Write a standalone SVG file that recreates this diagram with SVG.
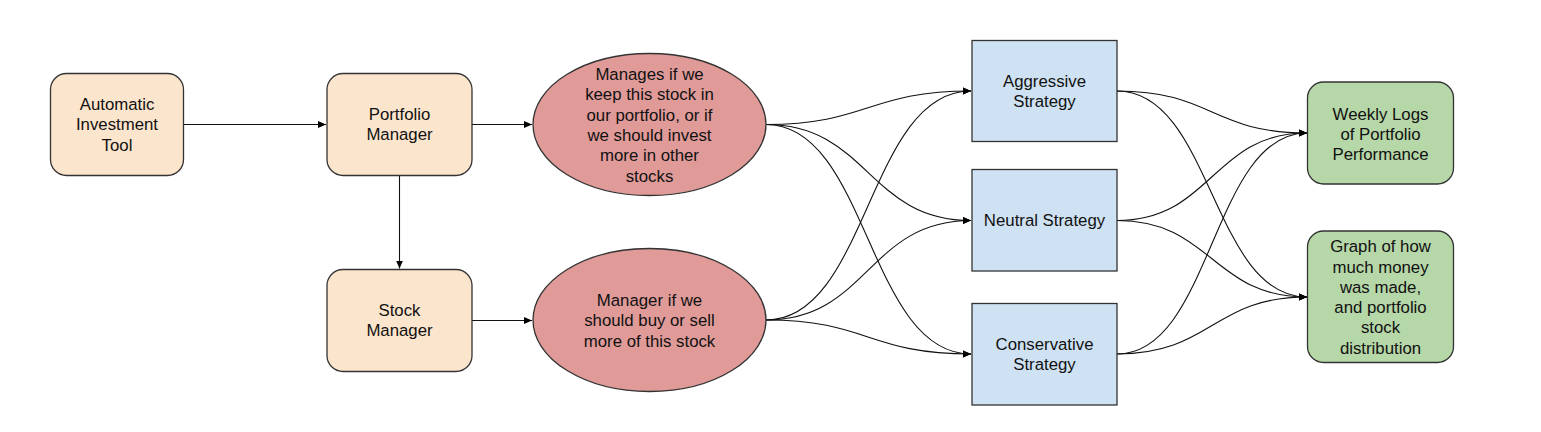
<svg xmlns="http://www.w3.org/2000/svg" width="1541" height="432" viewBox="0 0 1541 432">
<defs>
<marker id="arr" markerUnits="userSpaceOnUse" markerWidth="10" markerHeight="8" refX="8" refY="4" orient="auto">
<path d="M0,0.5 L8,4 L0,7.5 Z" fill="#000"/>
</marker>
<style>
.box{stroke:#333;stroke-width:1.3}
.beige{fill:#fce5cd}
.red{fill:#e09b99}
.blue{fill:#cfe2f3}
.green{fill:#b6d7a8}
.t{font-family:"Liberation Sans",Arial,sans-serif;font-size:16.8px;fill:#111;text-anchor:middle;dominant-baseline:central}
.c{fill:none;stroke:#111;stroke-width:1.1;marker-end:url(#arr)}
</style>
</defs>
<rect width="1541" height="432" fill="#fff"/>
<g id="connectors">
<path class="c" d="M183.5,124.5 L326,124.5"/>
<path class="c" d="M399.5,175.5 L399.5,268.5"/>
<path class="c" d="M472,124.5 L532,124.5"/>
<path class="c" d="M472,320.5 L532,320.5"/>
<path class="c" d="M766,124.5 C868,124.5 868,91 971,91"/>
<path class="c" d="M766,124.5 C868,124.5 868,220.5 971,220.5"/>
<path class="c" d="M766,124.5 C868,124.5 868,354 971,354"/>
<path class="c" d="M766,320 C868,320 868,91 971,91"/>
<path class="c" d="M766,320 C868,320 868,220.5 971,220.5"/>
<path class="c" d="M766,320 C868,320 868,354 971,354"/>
<path class="c" d="M1117,91 C1212,91 1212,133 1307,133"/>
<path class="c" d="M1117,91 C1212,91 1212,297 1307,297"/>
<path class="c" d="M1117,220.5 C1212,220.5 1212,133 1307,133"/>
<path class="c" d="M1117,220.5 C1212,220.5 1212,297 1307,297"/>
<path class="c" d="M1117,354 C1212,354 1212,133 1307,133"/>
<path class="c" d="M1117,354 C1212,354 1212,297 1307,297"/>
</g>
<g id="automatic-investment-tool">
<rect class="box beige" x="50.5" y="73.5" width="133" height="102" rx="16"/>
<text class="t" x="117" y="104.5">Automatic</text>
<text class="t" x="117" y="124.8">Investment</text>
<text class="t" x="117" y="145.1">Tool</text>
</g>
<g id="portfolio-manager">
<rect class="box beige" x="327" y="73.5" width="145" height="102" rx="16"/>
<text class="t" x="399.5" y="114.5">Portfolio</text>
<text class="t" x="399.5" y="134.8">Manager</text>
</g>
<g id="stock-manager">
<rect class="box beige" x="327" y="269.5" width="145" height="102" rx="16"/>
<text class="t" x="399.5" y="310.5">Stock</text>
<text class="t" x="399.5" y="330.8">Manager</text>
</g>
<g id="portfolio-decision">
<ellipse class="box red" cx="649.5" cy="124.5" rx="116.5" ry="71"/>
<text class="t" x="649.5" y="74.3">Manages if we</text>
<text class="t" x="649.5" y="94.7">keep this stock in</text>
<text class="t" x="649.5" y="115.1">our portfolio, or if</text>
<text class="t" x="649.5" y="135.5">we should invest</text>
<text class="t" x="649.5" y="155.9">more in other</text>
<text class="t" x="649.5" y="176.3">stocks</text>
</g>
<g id="stock-decision">
<ellipse class="box red" cx="649.5" cy="320" rx="116.5" ry="71.5"/>
<text class="t" x="649.5" y="300">Manager if we</text>
<text class="t" x="649.5" y="320.6">should buy or sell</text>
<text class="t" x="649.5" y="341.2">more of this stock</text>
</g>
<g id="aggressive-strategy">
<rect class="box blue" x="972" y="40.5" width="145" height="101"/>
<text class="t" x="1044.5" y="81.5">Aggressive</text>
<text class="t" x="1044.5" y="101.8">Strategy</text>
</g>
<g id="neutral-strategy">
<rect class="box blue" x="972" y="169.5" width="145" height="101.5"/>
<text class="t" x="1044.5" y="220.5">Neutral Strategy</text>
</g>
<g id="conservative-strategy">
<rect class="box blue" x="972" y="303.5" width="145" height="101.5"/>
<text class="t" x="1044.5" y="344">Conservative</text>
<text class="t" x="1044.5" y="364.3">Strategy</text>
</g>
<g id="weekly-logs">
<rect class="box green" x="1307.5" y="82" width="146" height="102" rx="16"/>
<text class="t" x="1380.5" y="114.3">Weekly Logs</text>
<text class="t" x="1380.5" y="134.4">of Portfolio</text>
<text class="t" x="1380.5" y="154.5">Performance</text>
</g>
<g id="money-graph">
<rect class="box green" x="1307.5" y="231" width="146" height="131.5" rx="16"/>
<text class="t" x="1380.5" y="246.7">Graph of how</text>
<text class="t" x="1380.5" y="267">much money</text>
<text class="t" x="1380.5" y="287.3">was made,</text>
<text class="t" x="1380.5" y="307.6">and portfolio</text>
<text class="t" x="1380.5" y="327.9">stock</text>
<text class="t" x="1380.5" y="348.2">distribution</text>
</g>
</svg>
